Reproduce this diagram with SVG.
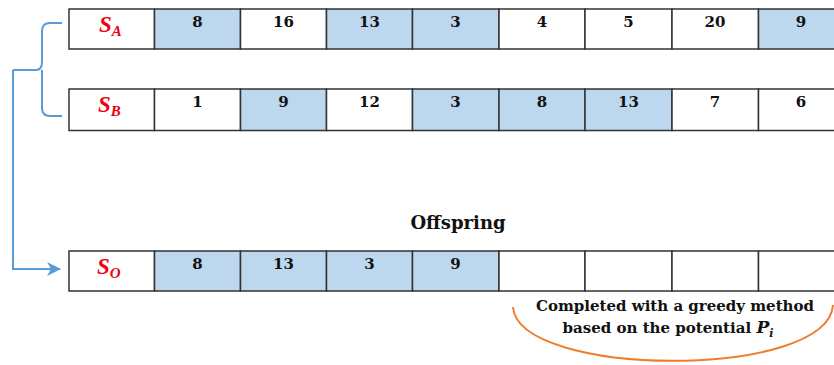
<svg xmlns="http://www.w3.org/2000/svg" width="834" height="365" viewBox="0 0 834 365">
<style>
.c{stroke:#333;stroke-width:1.5;fill:#fff}
.s{fill:#bdd7ee}
.n{font-family:"DejaVu Serif",serif;font-weight:bold;font-size:15px;fill:#111;text-anchor:middle}
.l{font-family:"Liberation Serif",serif;font-weight:bold;font-style:italic;font-size:23px;fill:#f00010}
.sub{font-size:15px}
.t{font-family:"DejaVu Serif",serif;font-weight:bold;font-size:15px;fill:#111;text-anchor:middle}
.big{font-size:18px}
.con{fill:none;stroke:#5b9bd5;stroke-width:2}
</style>
<defs>
<marker id="ah" markerWidth="14" markerHeight="14" refX="13" refY="7" orient="auto" markerUnits="userSpaceOnUse">
<path d="M0,0 L14,7 L0,14 L4,7 Z" fill="#5b9bd5"/>
</marker>
</defs>
<g id="connectors">
<path class="con" d="M62,23 H50 Q42,23 42,31 V62 Q42,70 36,70 H13 M42,70 V108 Q42,116 50,116 H62"/>
<path class="con" d="M13,70 V269 H60" marker-end="url(#ah)"/>
<path d="M513,307 C518,378 828,380 833,305" fill="none" stroke="#ed7d31" stroke-width="2"/>
</g>
<g id="row-SA">
<rect class="c" x="69" y="9" width="85.5" height="40"/>
<text class="l" x="99" y="32">S<tspan class="sub" dy="4">A</tspan></text>
<rect class="c s" x="154.5" y="9" width="86" height="40"/><text class="n" x="197.5" y="27">8</text>
<rect class="c" x="240.5" y="9" width="86" height="40"/><text class="n" x="283.5" y="27">16</text>
<rect class="c s" x="326.5" y="9" width="86" height="40"/><text class="n" x="369.5" y="27">13</text>
<rect class="c s" x="412.5" y="9" width="86.5" height="40"/><text class="n" x="455.5" y="27">3</text>
<rect class="c" x="499" y="9" width="86" height="40"/><text class="n" x="542" y="27">4</text>
<rect class="c" x="585" y="9" width="87" height="40"/><text class="n" x="628.5" y="27">5</text>
<rect class="c" x="672" y="9" width="86.5" height="40"/><text class="n" x="715" y="27">20</text>
<rect class="c s" x="758.5" y="9" width="86.5" height="40"/><text class="n" x="801" y="27">9</text>
</g>
<g id="row-SB">
<rect class="c" x="69" y="89" width="85.5" height="41.5"/>
<text class="l" x="98" y="112">S<tspan class="sub" dy="4">B</tspan></text>
<rect class="c" x="154.5" y="89" width="86" height="41.5"/><text class="n" x="197.5" y="107">1</text>
<rect class="c s" x="240.5" y="89" width="86" height="41.5"/><text class="n" x="283.5" y="107">9</text>
<rect class="c" x="326.5" y="89" width="86" height="41.5"/><text class="n" x="369.5" y="107">12</text>
<rect class="c s" x="412.5" y="89" width="86.5" height="41.5"/><text class="n" x="455.5" y="107">3</text>
<rect class="c s" x="499" y="89" width="86" height="41.5"/><text class="n" x="542" y="107">8</text>
<rect class="c s" x="585" y="89" width="87" height="41.5"/><text class="n" x="628.5" y="107">13</text>
<rect class="c" x="672" y="89" width="86.5" height="41.5"/><text class="n" x="715" y="107">7</text>
<rect class="c" x="758.5" y="89" width="86.5" height="41.5"/><text class="n" x="801" y="107">6</text>
</g>
<g id="title">
<text class="t big" x="458" y="229">Offspring</text>
</g>
<g id="row-SO">
<rect class="c" x="69" y="251" width="85.5" height="40"/>
<text class="l" x="97" y="274">S<tspan class="sub" dy="4">O</tspan></text>
<rect class="c s" x="154.5" y="251" width="86" height="40"/><text class="n" x="197.5" y="269">8</text>
<rect class="c s" x="240.5" y="251" width="86" height="40"/><text class="n" x="283.5" y="269">13</text>
<rect class="c s" x="326.5" y="251" width="86" height="40"/><text class="n" x="369.5" y="269">3</text>
<rect class="c s" x="412.5" y="251" width="86.5" height="40"/><text class="n" x="455.5" y="269">9</text>
<rect class="c" x="499" y="251" width="86" height="40"/>
<rect class="c" x="585" y="251" width="87" height="40"/>
<rect class="c" x="672" y="251" width="86.5" height="40"/>
<rect class="c" x="758.5" y="251" width="86.5" height="40"/>
</g>
<g id="note">
<text class="t" x="675" y="311">Completed with a greedy method</text>
<text class="t" x="668" y="333">based on the potential <tspan font-style="italic" font-size="17">P</tspan><tspan font-style="italic" font-size="11" dy="4">i</tspan></text>
</g>
</svg>
